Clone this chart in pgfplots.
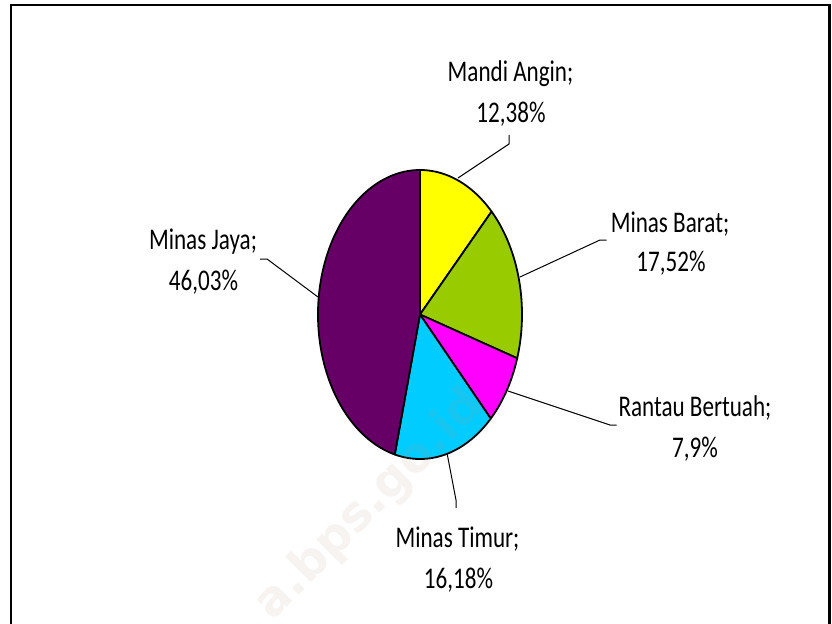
\documentclass[border=0pt]{standalone}
\usepackage{pgfplots}
\pgfplotsset{compat=1.18}
\usepackage{pgfplotstable}
\usepackage{fontspec}
\setmainfont{Carlito}[FakeStretch=0.77]
\newfontfamily\wmfont{DejaVu Sans}
\definecolor{cYellow}{HTML}{FFFF00}
\definecolor{cGreen}{HTML}{99CC00}
\definecolor{cMagenta}{HTML}{FF00FF}
\definecolor{cCyan}{HTML}{00CCFF}
\definecolor{cPurple}{HTML}{660066}
\definecolor{cWM}{HTML}{B89C8C}

\pgfplotstableread{
pct
12.38
17.52
7.9
16.18
46.03
}\pietable

\begin{document}
\begin{tikzpicture}[lbl/.style={font=\fontsize{15pt}{18pt}\selectfont, inner sep=0pt, anchor=base}]
\pgfplotstablegetelem{0}{pct}\of\pietable \let\pA\pgfplotsretval
\pgfplotstablegetelem{1}{pct}\of\pietable \let\pB\pgfplotsretval
\pgfplotstablegetelem{2}{pct}\of\pietable \let\pC\pgfplotsretval
\pgfplotstablegetelem{3}{pct}\of\pietable \let\pD\pgfplotsretval
\pgfplotstablegetelem{4}{pct}\of\pietable \let\pE\pgfplotsretval
\pgfmathsetmacro\tA{90}
\pgfmathsetmacro\tB{\tA-3.6*\pA}
\pgfmathsetmacro\tC{\tB-3.6*\pB}
\pgfmathsetmacro\tD{\tC-3.6*\pC}
\pgfmathsetmacro\tE{\tD-3.6*\pD}
\pgfmathsetmacro\tF{\tE-3.6*\pE}
\begin{axis}[x=0.5pt, y=0.5pt, xmin=0, xmax=832, ymin=0, ymax=623,
  hide axis, clip=false, at={(0,0)}, anchor=origin]
% leader lines
\addplot[black, line width=0.5pt] coordinates {(458,445) (509,479) (509,488)};
\addplot[black, line width=0.5pt] coordinates {(520,346) (600,383) (606.5,383)};
\addplot[black, line width=0.5pt] coordinates {(508,232) (610,198) (616.5,198)};
\addplot[black, line width=0.5pt] coordinates {(447,170) (456,123) (456,115)};
\addplot[black, line width=0.5pt] coordinates {(318,326) (267,364) (260,364)};
% slices
\addplot[draw=black, line width=0.9pt, line join=round, fill=cYellow, domain=\tB:\tA, samples=50]
  ({420+102*cos(x)},{308.5+144.5*sin(x)}) -- (axis cs:420,308.5) -- cycle;
\addplot[draw=black, line width=0.9pt, line join=round, fill=cGreen, domain=\tC:\tB, samples=60]
  ({420+102*cos(x)},{308.5+144.5*sin(x)}) -- (axis cs:420,308.5) -- cycle;
\addplot[draw=black, line width=0.9pt, line join=round, fill=cMagenta, domain=\tD:\tC, samples=40]
  ({420+102*cos(x)},{308.5+144.5*sin(x)}) -- (axis cs:420,308.5) -- cycle;
\addplot[draw=black, line width=0.9pt, line join=round, fill=cCyan, domain=\tE:\tD, samples=60]
  ({420+102*cos(x)},{308.5+144.5*sin(x)}) -- (axis cs:420,308.5) -- cycle;
\addplot[draw=black, line width=0.9pt, line join=round, fill=cPurple, domain=\tF:\tE, samples=120]
  ({420+102*cos(x)},{308.5+144.5*sin(x)}) -- (axis cs:420,308.5) -- cycle;
% labels
\node[lbl] at (axis cs:510.5,541) {Mandi Angin;};
\node[lbl] at (axis cs:511,501) {12,38\%};
\node[lbl] at (axis cs:670,391) {Minas Barat;};
\node[lbl] at (axis cs:671,351) {17,52\%};
\node[lbl] at (axis cs:695,206) {Rantau Bertuah;};
\node[lbl] at (axis cs:695,166) {7,9\%};
\node[lbl] at (axis cs:457.5,76) {Minas Timur;};
\node[lbl] at (axis cs:458.5,35) {16,18\%};
\node[lbl] at (axis cs:203,373) {Minas Jaya;};
\node[lbl] at (axis cs:203.5,333) {46,03\%};
% watermark
\node[anchor=center, rotate=45, text=cWM, text opacity=0.12, font=\wmfont\bfseries\fontsize{24pt}{28pt}\selectfont] at (axis cs:370,118) {a.bps.go.id};
% frame
\draw[line width=1.25pt, black] (axis cs:11,-5) -- (axis cs:11,618) -- (axis cs:829.5,618) -- (axis cs:829.5,-5);
\end{axis}
\pgfresetboundingbox
\path (0,0) rectangle (416pt,311.5pt);
\end{tikzpicture}
\end{document}
